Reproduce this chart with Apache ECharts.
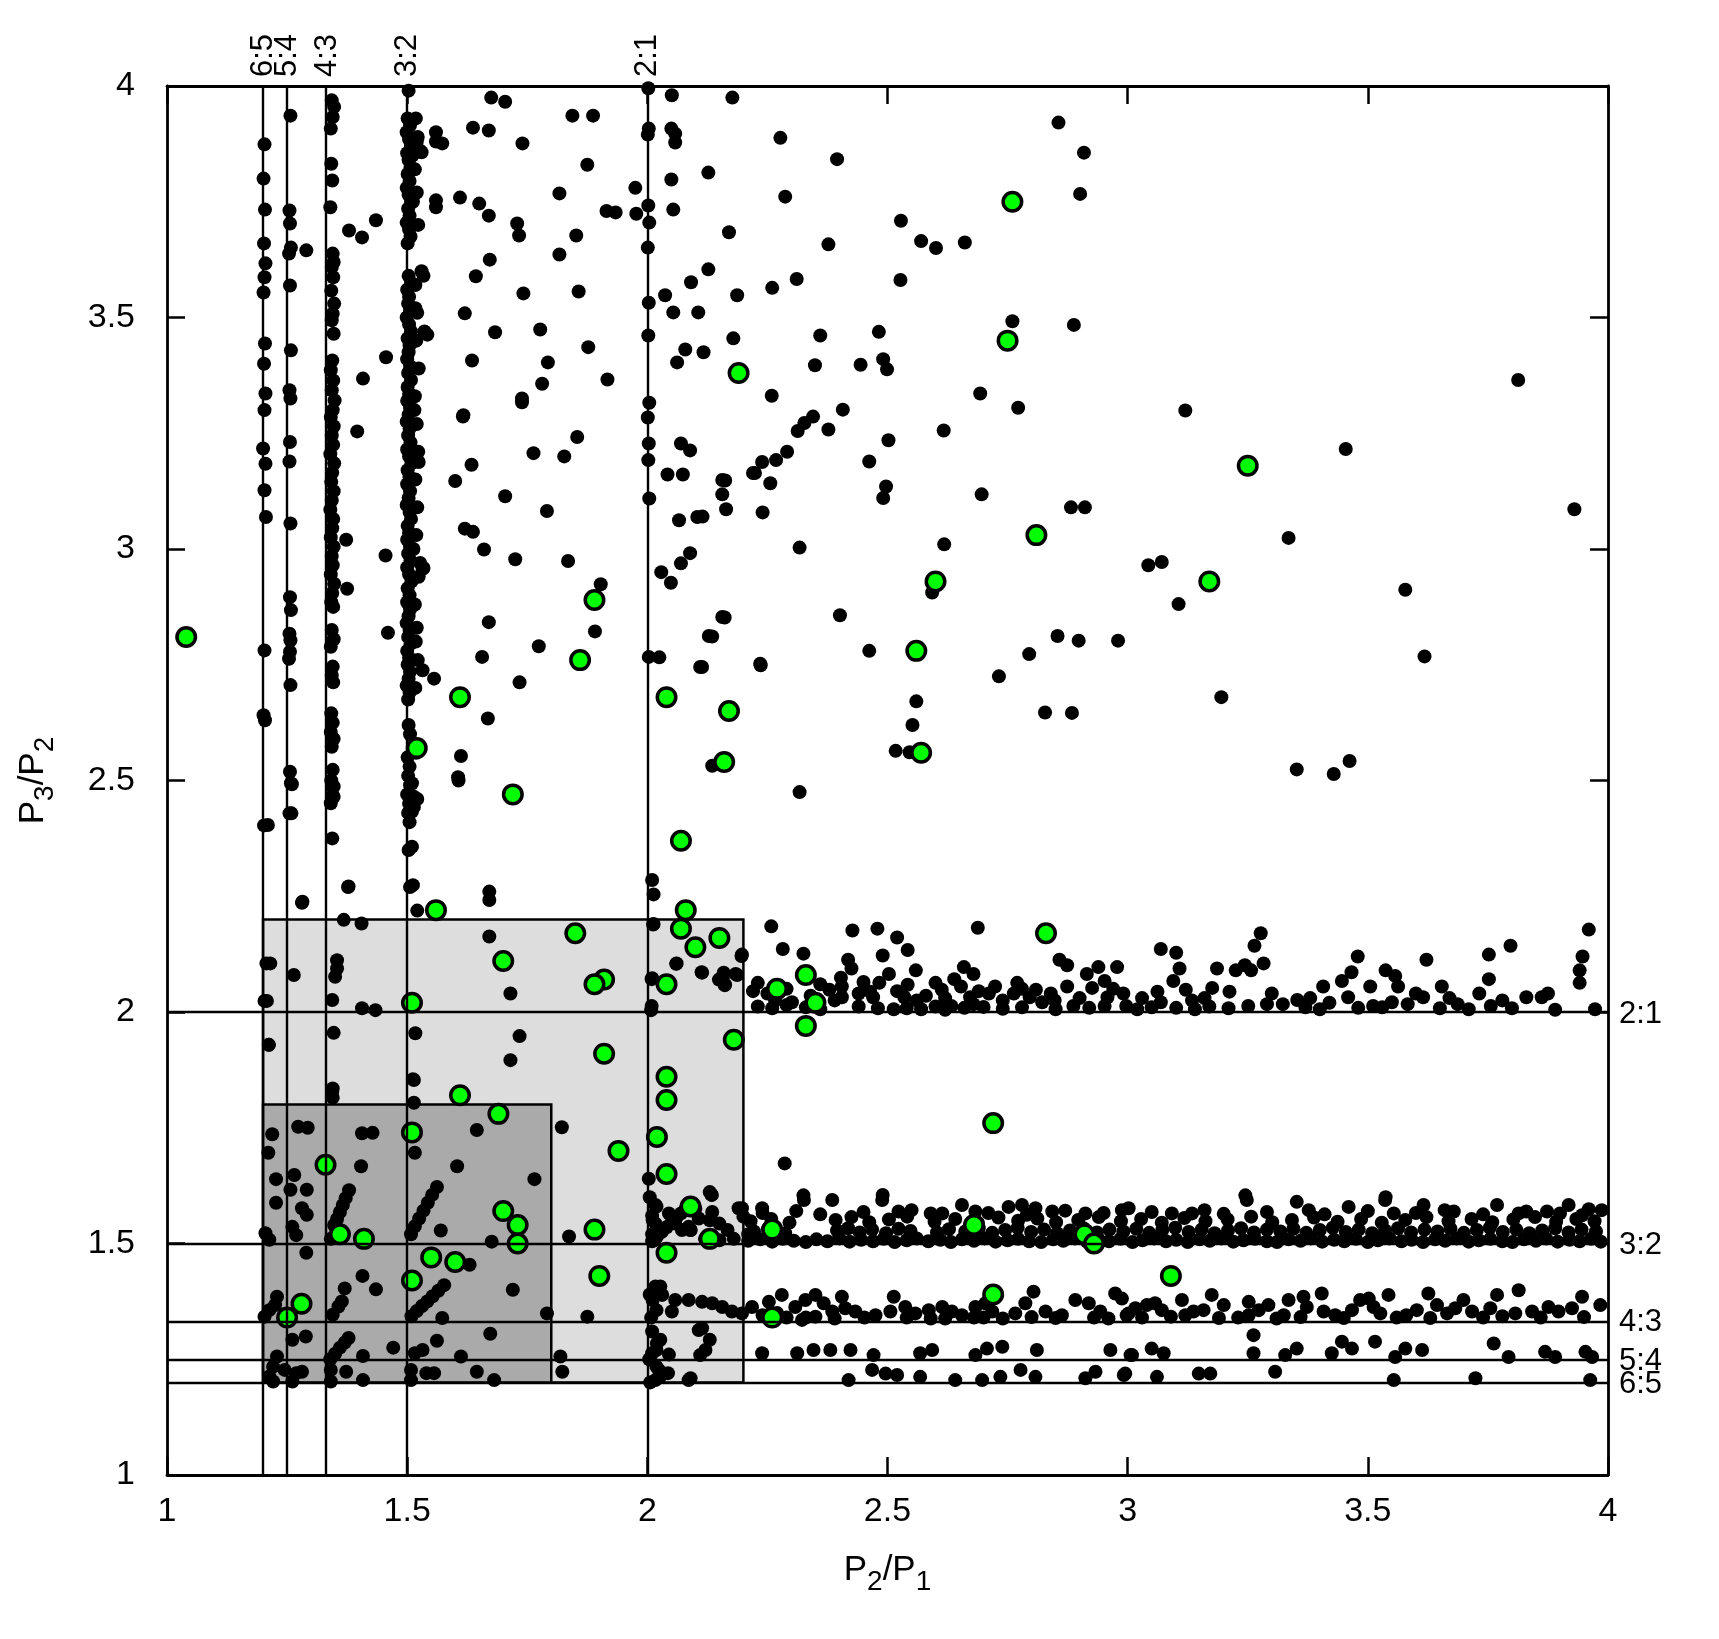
<!DOCTYPE html>
<html>
<head>
<meta charset="utf-8">
<title>P3/P2 against P2/P1</title>
<script src="https://cdn.jsdelivr.net/npm/echarts@6/dist/echarts.min.js"></script>
<style>
  html, body { margin: 0; padding: 0; background: #fff; }
  #chart { width: 1719px; height: 1639px; }
</style>
</head>
<body>
<div id="chart"></div>
<script>
// resonance ratios, drawn as lines and labelled on top / right
var resonanceValues = [6 / 5, 5 / 4, 4 / 3, 3 / 2, 2];
var resonanceLabels = ['6:5', '5:4', '4:3', '3:2', '2:1'];

// shaded boxes [x0, y0, x1, y1]
var boxLight = [1.2, 1.2, 2.2, 2.2];
var boxDark = [1.2, 1.2, 1.8, 1.8];

// points piled up on the vertical resonance lines
var col65 = [[1.203,3.874],[1.201,3.800],[1.204,3.733],[1.202,3.66],[1.205,3.617],[1.203,3.587],[1.201,3.554],[1.204,3.444],[1.202,3.400],[1.205,3.336],[1.203,3.300],[1.200,3.217],[1.205,3.184],[1.203,3.127],[1.206,3.069],[1.203,2.781],[1.201,2.641],[1.204,2.630],[1.202,2.403],[1.207,2.105],[1.203,2.024],[1.212,1.929]];

var col54 = [[1.257,3.936],[1.255,3.731],[1.256,3.703],[1.258,3.651],[1.254,3.638],[1.256,3.569],[1.258,3.429],[1.255,3.343],[1.257,3.325],[1.256,3.231],[1.255,3.189],[1.257,3.055],[1.256,2.896],[1.258,2.868],[1.255,2.817],[1.257,2.803],[1.256,2.778],[1.254,2.763],[1.257,2.706],[1.256,2.519],[1.258,2.494],[1.255,2.429],[1.264,2.080],[1.290,3.645]];

var col43 = [[1.343,3.969],[1.348,3.955],[1.345,3.933],[1.341,3.908],[1.342,3.832],[1.344,3.796],[1.340,3.738],[1.345,3.638],[1.347,3.620],[1.343,3.609],[1.346,3.587],[1.342,3.558],[1.348,3.530],[1.345,3.508],[1.343,3.494],[1.347,3.465],[1.344,3.407],[1.341,3.386],[1.346,3.364],[1.343,3.343],[1.349,3.321],[1.345,3.300],[1.341,3.285],[1.347,3.265],[1.343,3.245],[1.346,3.225],[1.340,3.205],[1.348,3.185],[1.344,3.165],[1.342,3.145],[1.347,3.125],[1.343,3.105],[1.340,3.085],[1.346,3.065],[1.344,3.045],[1.341,3.025],[1.347,3.005],[1.343,2.985],[1.345,2.965],[1.341,2.945],[1.348,2.925],[1.344,2.905],[1.342,2.885],[1.346,2.875],[1.343,2.825],[1.347,2.805],[1.341,2.789],[1.345,2.746],[1.343,2.727],[1.346,2.712],[1.342,2.645],[1.345,2.625],[1.341,2.605],[1.347,2.590],[1.343,2.573],[1.345,2.523],[1.342,2.500],[1.347,2.487],[1.344,2.465],[1.341,2.451],[1.344,2.375],[1.354,2.112],[1.354,2.094],[1.350,2.076],[1.344,2.026],[1.347,1.955],[1.344,1.828],[1.345,1.835],[1.345,1.815]];

var col32 = [[1.503,3.990],[1.501,3.930],[1.506,3.915],[1.499,3.900],[1.504,3.885],[1.508,3.870],[1.500,3.855],[1.503,3.840],[1.507,3.825],[1.501,3.810],[1.505,3.795],[1.499,3.780],[1.503,3.765],[1.508,3.750],[1.502,3.735],[1.505,3.720],[1.499,3.705],[1.504,3.690],[1.507,3.675],[1.501,3.660],[1.503,3.590],[1.508,3.575],[1.500,3.560],[1.504,3.545],[1.502,3.530],[1.506,3.515],[1.499,3.500],[1.504,3.485],[1.508,3.470],[1.501,3.455],[1.505,3.440],[1.503,3.425],[1.500,3.410],[1.506,3.395],[1.502,3.380],[1.508,3.365],[1.501,3.350],[1.504,3.335],[1.500,3.320],[1.506,3.305],[1.503,3.290],[1.499,3.275],[1.505,3.260],[1.502,3.245],[1.507,3.230],[1.500,3.215],[1.504,3.200],[1.509,3.185],[1.501,3.170],[1.505,3.155],[1.500,3.140],[1.506,3.125],[1.503,3.110],[1.499,3.095],[1.505,3.080],[1.508,3.065],[1.501,3.050],[1.504,3.035],[1.500,3.020],[1.506,3.005],[1.502,2.990],[1.507,2.975],[1.500,2.960],[1.504,2.945],[1.509,2.930],[1.501,2.915],[1.505,2.900],[1.500,2.885],[1.506,2.870],[1.503,2.855],[1.499,2.840],[1.505,2.825],[1.502,2.810],[1.507,2.795],[1.500,2.780],[1.504,2.765],[1.501,2.750],[1.506,2.735],[1.503,2.720],[1.499,2.705],[1.505,2.690],[1.502,2.675],[1.503,2.620],[1.506,2.600],[1.501,2.550],[1.505,2.530],[1.502,2.510],[1.506,2.490],[1.500,2.470],[1.504,2.450],[1.502,2.430],[1.505,2.410],[1.503,2.350],[1.506,2.270],[1.510,2.494],[1.514,2.465],[1.514,2.443],[1.510,2.433],[1.510,2.357],[1.512,2.274],[1.521,2.219],[1.514,1.853],[1.514,1.804],[1.517,1.954],[1.512,1.855],[1.516,1.696],[1.527,3.860],[1.520,3.880],[1.560,3.880],[1.530,3.600],[1.534,3.590],[1.536,3.470],[1.527,2.970],[1.524,3.188],[1.532,2.957],[1.532,2.738],[1.517,3.520],[1.515,3.300],[1.513,3.000],[1.518,2.800],[1.512,3.750],[1.511,3.850],
  [1.518,3.930],[1.522,3.890],[1.516,3.820],[1.520,3.770],[1.523,3.700],[1.517,3.570],[1.521,3.510],[1.519,3.450],[1.524,3.390],[1.516,3.330],[1.520,3.270],[1.523,3.210],[1.517,3.150],[1.521,3.090],[1.519,3.030],[1.524,2.940],[1.516,2.880],[1.520,2.830],[1.522,2.760],[1.517,2.700],[1.519,2.560],[1.521,2.460]];

var col21 = [[2.002,3.995],[2.003,3.908],[2.001,3.895],[2.002,3.742],[2.004,3.705],[2.001,3.651],[2.003,3.532],[2.002,3.461],[2.004,3.316],[2.001,3.284],[2.003,3.228],[2.002,3.192],[2.004,3.109],[2.003,2.767],[2.010,2.285],[2.013,2.254],[2.013,2.190],[2.010,2.073],[2.008,2.004],[2.012,2.189],[2.009,2.013],[2.019,1.580],[2.011,1.551],[2.019,1.529],[2.015,1.508],[2.027,1.407],[2.011,1.378],[2.019,1.356],[2.051,1.353],[2.027,1.292],[2.019,1.270],[2.019,1.234],[2.027,1.213],[2.043,1.220],[2.005,1.600],[2.003,1.640],[2.005,1.390],[2.008,1.340],[2.004,1.250],[2.006,1.200],[2.010,1.310]];

// scattered points above y = 2.2
var scatterUpper = [[1.675,3.975],[1.704,3.966],[1.637,3.910],[1.670,3.904],[1.740,3.876],[1.844,3.936],[1.887,3.936],[1.875,3.830],[1.817,3.768],[1.975,3.780],[1.915,3.730],[1.934,3.727],[1.977,3.724],[1.560,3.900],[1.573,3.876],[1.530,3.857],[1.560,3.753],[1.560,3.738],[1.610,3.759],[1.650,3.746],[1.670,3.720],[1.729,3.703],[1.733,3.677],[1.852,3.677],[1.817,3.636],[1.672,3.625],[1.643,3.589],[1.742,3.552],[1.857,3.556],[1.620,3.509],[1.683,3.468],[1.777,3.474],[1.542,3.463],[1.877,3.436],[1.635,3.407],[1.793,3.403],[1.917,3.366],[1.781,3.357],[1.739,3.325],[1.617,3.289],[1.456,3.414],[1.408,3.368],[1.379,3.688],[1.406,3.673],[1.435,3.710],
  [2.051,3.980],[2.050,3.908],[2.058,3.897],[2.058,3.878],[2.050,3.798],[2.054,3.733],[2.127,3.813],[2.177,3.975],[2.170,3.684],[2.127,3.604],[2.091,3.576],[2.037,3.548],[2.054,3.511],[2.106,3.511],[2.187,3.548],[2.179,3.455],[2.079,3.431],[2.117,3.425],[2.062,3.403],
  [1.396,3.254],[1.616,3.286],[1.739,3.317],[1.854,3.242],[1.763,3.207],[1.827,3.200],[1.634,3.182],[1.600,3.147],[1.704,3.114],[1.791,3.082],[1.620,3.044],[1.637,3.037],[1.660,2.999],[1.725,2.978],[1.835,2.974],[1.455,2.986],[1.373,3.020],[1.375,2.914],[1.534,2.959],[1.903,2.924],[1.891,2.822],[1.774,2.790],[1.670,2.842],[1.656,2.767],[1.460,2.819],[1.556,2.720],[1.734,2.712],[1.668,2.634],[1.612,2.553],[1.606,2.507],[1.377,2.270],[1.282,2.238],[1.671,2.260],[1.671,2.242],
  [2.070,3.228],[2.089,3.213],[2.042,3.161],[2.074,3.161],[2.162,3.148],[2.164,3.086],[2.224,3.164],[2.066,3.062],[2.104,3.069],[2.089,2.991],[2.070,2.969],[2.029,2.950],[2.049,2.927],[2.161,2.852],[2.135,2.811],[2.025,2.766],[2.114,2.745],[2.236,2.749],[2.135,2.532],
  [1.260,2.492],[1.344,2.487],[1.347,2.465],[1.607,2.500],[1.259,2.429],[1.210,2.404],[1.378,2.271],[1.281,2.236],[1.671,2.163],[1.368,2.199],[1.405,2.191],[2.060,2.104],[2.114,2.085],[2.159,2.085],[2.149,2.070],[2.161,2.058],[2.187,2.080],[2.196,2.121],[1.215,2.105],[1.715,2.040],[1.208,2.024],[1.406,2.008],[1.434,2.004],[1.734,1.948],[1.715,1.896],[1.212,1.929],
  [2.277,3.888],[2.395,3.842],[2.287,3.761],[2.377,3.658],[2.528,3.709],[2.570,3.665],[2.601,3.650],[2.661,3.662],[2.856,3.921],[2.909,3.856],[2.901,3.767],[2.260,3.564],[2.311,3.583],[2.527,3.581],[2.360,3.461],[2.482,3.469],[2.349,3.397],[2.444,3.398],[2.491,3.410],[2.499,3.388],[2.760,3.492],[2.888,3.484],[2.259,3.331],[2.693,3.336],[2.772,3.305],[3.813,3.365],[3.120,3.299],[2.345,3.286],[2.327,3.272],[2.313,3.255],[2.407,3.301],[2.377,3.258],[2.291,3.210],[2.268,3.192],[2.239,3.188],[2.220,3.164],[2.156,3.149],[2.156,3.118],[2.256,3.142],[2.240,3.079],[2.115,3.070],[2.462,3.189],[2.502,3.235],[2.617,3.256],[2.497,3.135],[2.491,3.110],[2.696,3.118],[3.454,3.216],[2.882,3.090],[2.911,3.090],[3.930,3.086],[3.335,3.024],[2.317,3.003],[2.618,3.010],[2.593,2.906],[3.043,2.965],[3.071,2.972],[3.106,2.881],[3.578,2.912],[2.156,2.853],[2.128,2.812],[2.401,2.857],[2.110,2.745],[2.235,2.752],[2.462,2.780],[2.854,2.812],[2.898,2.802],[2.980,2.802],[2.795,2.773],[3.618,2.768],[2.732,2.725],[3.195,2.680],[2.560,2.671],[2.552,2.620],[2.828,2.647],[2.884,2.646],[2.517,2.564],[2.546,2.561],[3.352,2.524],[3.429,2.514],[3.462,2.542],[2.317,2.475]];

// points piled up along the horizontal resonance lines
var band21 = [[2.258,2.185],[2.282,2.136],[2.325,2.126],[2.230,2.063],[2.266,2.025],[2.301,2.021],[2.197,2.124],[2.184,2.082],[2.158,2.078],[2.162,2.059],[2.113,2.086],[2.061,2.105],[2.009,2.071],
  [2.427,2.176],[2.479,2.180],[2.520,2.161],[2.542,2.134],[2.418,2.113],[2.425,2.094],[2.403,2.074],[2.405,2.055],[2.379,2.048],[2.405,2.032],[2.490,2.122],[2.503,2.082],[2.483,2.063],[2.464,2.044],[2.470,2.032],[2.559,2.090],[2.542,2.059],[2.535,2.032],[2.513,2.006],[2.561,2.025],[2.600,2.063],[2.613,2.048],[2.639,2.071],[2.659,2.097],[2.679,2.082],[2.653,2.055],[2.672,2.032],[2.633,2.013],[2.679,2.017],[2.688,2.182],[2.724,2.055],[2.711,2.040],[2.770,2.063],[2.763,2.040],[2.796,2.032],[2.809,2.048],[2.822,2.021],[2.858,2.113],[2.874,2.101],[2.874,2.055],[2.887,2.013],[2.848,2.025],[2.915,2.082],[2.939,2.097],[2.952,2.067],[2.926,2.052],[2.978,2.097],[2.958,2.032],[2.952,2.013],[2.991,2.040],[2.997,2.013],[3.069,2.136],[3.101,2.128],[3.108,2.094],[3.095,2.067],[3.062,2.044],[3.069,2.021],[3.101,2.009],[3.134,2.025],[3.121,2.048],[3.186,2.094],[3.176,2.052],[3.212,2.044],[3.225,2.090],[3.244,2.101],[3.257,2.090],[3.264,2.143],[3.277,2.170],[3.283,2.105],[3.251,2.013],[3.290,2.017],[3.323,2.017],[3.353,2.026],[3.407,2.055],[3.446,2.067],[3.466,2.086],[3.479,2.120],[3.459,2.032],[3.505,2.055],[3.511,2.013],[3.537,2.090],[3.557,2.078],[3.563,2.055],[3.550,2.021],[3.583,2.017],[3.622,2.113],[3.615,2.032],[3.654,2.055],[3.687,2.017],[3.732,2.040],[3.752,2.071],[3.756,2.013],[3.752,2.124],[3.797,2.143],[3.830,2.032],[3.862,2.032],[3.875,2.040],[3.941,2.090],[3.941,2.063],[3.947,2.120],[3.960,2.178],[3.973,2.006],
  [2.230,2.012],[2.260,2.008],[2.290,2.015],[2.330,2.010],[2.360,2.006],[2.440,2.012],[2.480,2.008],[2.540,2.008],[2.570,2.006],[2.600,2.012],[2.620,2.005],[2.660,2.009],[2.700,2.011],[2.740,2.007],[2.780,2.010],[2.850,2.006],[2.920,2.009],[3.020,2.006],[3.050,2.010],[3.140,2.006],[3.170,2.012],[3.210,2.008],[3.370,2.010],[3.400,2.006],[3.480,2.009],[3.530,2.010],[3.650,2.008],[3.710,2.006],[3.800,2.008],[3.890,2.005],
  [2.220,2.045],[2.250,2.040],[2.290,2.050],[2.340,2.035],[2.360,2.060],[2.390,2.025],[2.440,2.040],[2.450,2.065],[2.520,2.045],[2.580,2.035],[2.620,2.030],[2.690,2.045],[2.740,2.025],[2.780,2.050],[2.840,2.040],[2.900,2.030],[2.970,2.050],[3.030,2.030],[3.160,2.030],[3.300,2.040],[3.380,2.030],[3.420,2.020],[3.600,2.040],[3.670,2.030],[3.780,2.025],[2.286,1.673]];

var band32 = [[2.010,1.505],[2.020,1.515],[2.030,1.525],[2.040,1.535],[2.050,1.545],[2.060,1.555],[2.070,1.565],[2.080,1.575],[2.017,1.583],[2.010,1.560],[2.017,1.543],[2.010,1.520],[2.045,1.565],[2.058,1.543],[2.072,1.529],[2.086,1.536],[2.107,1.554],[2.134,1.605],[2.135,1.568],[2.150,1.543],[2.167,1.529],[2.190,1.576],[2.200,1.558],[2.210,1.520],[2.090,1.529],[2.120,1.510],[2.150,1.507],[2.180,1.510],[2.100,1.575],[2.130,1.550],
  [2.210,1.506],[2.235,1.509],[2.260,1.504],[2.282,1.510],[2.305,1.506],[2.330,1.503],[2.352,1.509],[2.375,1.505],[2.400,1.511],[2.421,1.504],[2.445,1.508],[2.470,1.505],[2.492,1.510],[2.515,1.503],[2.540,1.507],[2.561,1.511],[2.585,1.505],[2.610,1.508],[2.632,1.503],[2.655,1.509],[2.680,1.506],[2.702,1.511],[2.725,1.504],[2.750,1.507],[2.772,1.510],[2.795,1.505],[2.820,1.503],[2.845,1.509],[2.866,1.506],[2.890,1.511],[2.915,1.504],[2.940,1.508],[2.961,1.505],[2.985,1.510],[3.010,1.503],[3.031,1.507],[3.055,1.511],[3.080,1.505],[3.101,1.508],[3.125,1.503],[3.150,1.509],[3.171,1.506],[3.195,1.511],[3.220,1.504],[3.241,1.507],[3.265,1.510],[3.290,1.505],[3.311,1.503],[3.335,1.509],[3.360,1.506],[3.381,1.511],[3.405,1.504],[3.430,1.508],[3.451,1.505],[3.475,1.510],[3.500,1.503],[3.521,1.507],[3.545,1.511],[3.570,1.505],[3.591,1.508],[3.615,1.503],[3.640,1.509],[3.661,1.506],[3.685,1.511],[3.710,1.504],[3.731,1.507],[3.755,1.510],[3.780,1.505],[3.801,1.503],[3.825,1.509],[3.850,1.506],[3.871,1.511],[3.895,1.504],[3.920,1.508],[3.941,1.505],[3.965,1.510],[3.985,1.504],
  [2.222,1.526],[2.251,1.531],[2.287,1.522],[2.395,1.528],[2.418,1.533],[2.442,1.524],[2.468,1.530],[2.497,1.522],[2.523,1.532],[2.548,1.527],[2.603,1.524],[2.628,1.531],[2.662,1.526],[2.690,1.533],[2.718,1.523],[2.745,1.529],[2.771,1.534],[2.799,1.525],[2.826,1.530],[2.853,1.522],[2.880,1.528],[2.908,1.533],[2.936,1.524],[2.962,1.530],[2.991,1.526],[3.018,1.532],[3.045,1.523],[3.072,1.529],[3.099,1.534],[3.127,1.525],[3.154,1.530],[3.181,1.522],[3.209,1.528],[3.236,1.533],[3.263,1.524],[3.290,1.530],[3.318,1.526],[3.345,1.532],[3.372,1.523],[3.400,1.529],[3.427,1.534],[3.454,1.525],[3.481,1.530],[3.509,1.522],[3.536,1.528],[3.563,1.533],[3.590,1.524],[3.618,1.530],[3.645,1.526],[3.672,1.532],[3.700,1.523],[3.727,1.529],[3.754,1.534],[3.781,1.525],[3.809,1.530],[3.836,1.522],[3.863,1.528],[3.890,1.533],[3.918,1.524],[3.945,1.530],[3.975,1.526],
  [2.215,1.548],[2.258,1.553],[2.296,1.545],[2.392,1.551],[2.425,1.557],[2.462,1.546],[2.503,1.552],[2.541,1.558],[2.598,1.547],[2.641,1.553],[2.688,1.545],[2.731,1.556],[2.772,1.549],[2.812,1.554],[2.851,1.546],[2.897,1.551],[2.940,1.557],[2.986,1.548],[3.028,1.553],[3.071,1.545],[3.118,1.555],[3.162,1.548],[3.208,1.552],[3.257,1.558],[3.301,1.546],[3.342,1.551],[3.388,1.556],[3.437,1.547],[3.486,1.553],[3.529,1.545],[3.578,1.551],[3.622,1.557],[3.668,1.548],[3.716,1.553],[3.759,1.546],[3.803,1.552],[3.848,1.557],[3.892,1.547],[3.934,1.553],[3.972,1.548],
  [2.240,1.566],[2.310,1.570],[2.360,1.563],[2.450,1.568],[2.550,1.572],[2.590,1.565],[2.710,1.566],[2.790,1.562],[2.870,1.571],[2.950,1.566],[3.050,1.568],[3.160,1.572],[3.200,1.564],[3.290,1.568],[3.410,1.563],[3.500,1.570],[3.600,1.566],[3.660,1.572],[3.740,1.563],[3.830,1.569],[3.900,1.565],[3.960,1.574],
  [2.197,1.576],[2.239,1.576],[2.326,1.594],[2.385,1.594],[2.489,1.594],[2.523,1.569],[2.614,1.565],[2.655,1.583],[2.683,1.569],[2.752,1.579],[2.780,1.583],[2.808,1.576],[2.843,1.569],[2.912,1.565],[2.988,1.572],[3.002,1.576],[3.092,1.565],[3.134,1.565],[3.248,1.594],[3.352,1.590],[3.377,1.572],[3.460,1.579],[3.536,1.594],[3.554,1.565],[3.616,1.583],[3.679,1.569],[3.769,1.583],[3.814,1.565],[3.873,1.569],[3.918,1.583],[3.946,1.561],[3.987,1.572],[2.130,1.611],[2.325,1.604],[2.490,1.605],[3.245,1.604],[3.537,1.600]];

var band43 = [[2.017,1.407],[2.031,1.389],[2.058,1.378],[2.086,1.378],[2.114,1.374],[2.135,1.371],[2.156,1.363],[2.176,1.353],[2.197,1.349],[2.218,1.363],[2.253,1.374],[2.280,1.389],[2.240,1.345],[2.270,1.350],[2.290,1.340],
  [2.308,1.363],[2.329,1.378],[2.350,1.389],[2.367,1.371],[2.385,1.353],[2.405,1.385],[2.412,1.360],[2.433,1.353],[2.475,1.345],[2.506,1.353],[2.513,1.385],[2.537,1.363],[2.558,1.349],[2.586,1.356],[2.614,1.363],[2.634,1.353],[2.655,1.345],[2.683,1.363],[2.704,1.371],[2.718,1.353],[2.766,1.349],[2.787,1.371],[2.804,1.396],[2.829,1.353],[2.863,1.345],[2.891,1.378],[2.919,1.371],[2.943,1.353],[2.974,1.392],[3.002,1.349],[2.322,1.335],[2.350,1.342],[2.452,1.340],[2.590,1.338],[2.700,1.340],[2.930,1.340],
  [2.988,1.381],[2.998,1.345],[3.016,1.360],[3.040,1.367],[3.057,1.371],[3.071,1.356],[3.113,1.378],[3.120,1.345],[3.137,1.353],[3.158,1.356],[3.175,1.389],[3.200,1.367],[3.252,1.374],[3.252,1.345],[3.273,1.356],[3.293,1.367],[3.325,1.345],[3.335,1.378],[3.366,1.385],[3.373,1.363],[3.404,1.392],[3.408,1.353],[3.432,1.345],[3.467,1.356],[3.484,1.378],[3.502,1.381],[3.512,1.363],[3.526,1.349],[3.543,1.389],[3.602,1.356],[3.626,1.392],[3.644,1.367],[3.665,1.349],[3.682,1.360],[3.699,1.378],[3.717,1.353],[3.755,1.360],[3.769,1.389],[3.814,1.399],[3.807,1.349],[3.842,1.353],[3.876,1.363],[3.897,1.353],[3.925,1.360],[3.946,1.385],[3.984,1.367],
  [2.330,1.340],[2.390,1.338],[2.540,1.340],[2.620,1.338],[2.680,1.340],[2.740,1.338],[2.800,1.341],[2.850,1.339],[2.960,1.338],[3.030,1.340],[3.090,1.342],[3.190,1.339],[3.230,1.340],[3.310,1.338],[3.360,1.341],[3.450,1.339],[3.560,1.340],[3.580,1.345],[3.630,1.339],[3.740,1.340],[3.780,1.343],[3.860,1.340],[3.950,1.341]];

var band54 = [[2.020,1.284],[2.010,1.263],[2.121,1.270],[2.110,1.259],[2.107,1.313],[2.045,1.260],
  [2.239,1.263],[2.312,1.263],[2.346,1.270],[2.381,1.270],[2.423,1.270],[2.471,1.259],[2.568,1.263],[2.593,1.270],[2.683,1.259],[2.707,1.273],[2.739,1.277],[2.811,1.270],[2.964,1.270],[3.006,1.259],
  [3.009,1.259],[3.050,1.273],[3.075,1.263],[3.262,1.302],[3.262,1.263],[3.328,1.259],[3.352,1.273],[3.425,1.263],[3.446,1.288],[3.467,1.273],[3.515,1.288],[3.557,1.255],[3.578,1.273],[3.613,1.270],[3.762,1.284],[3.793,1.255],[3.869,1.266],[3.890,1.255],[3.953,1.266],[3.967,1.255]];

var band65 = [[2.024,1.227],[2.017,1.205],[2.086,1.205],
  [2.468,1.227],[2.496,1.219],[2.520,1.216],[2.419,1.205],[2.568,1.212],[2.641,1.205],[2.697,1.205],[2.735,1.212],[2.777,1.227],[2.808,1.212],[2.912,1.209],[2.933,1.223],[2.992,1.216],
  [2.995,1.219],[3.061,1.212],[3.148,1.219],[3.172,1.219],[3.307,1.223],[3.554,1.205],[3.724,1.209],[3.963,1.205]];

// points inside the shaded boxes
var boxPoints = [[1.219,1.736],[1.211,1.696],[1.273,1.752],[1.293,1.750],[1.406,1.738],[1.428,1.739],[1.645,1.745],[1.822,1.751],[1.404,1.667],[1.604,1.667],[1.765,1.639],[1.227,1.639],[1.227,1.588],[1.265,1.648],[1.257,1.616],[1.291,1.616],[1.281,1.576],[1.291,1.562],
  [1.379,1.615],[1.372,1.598],[1.366,1.583],[1.360,1.568],[1.354,1.553],[1.348,1.540],[1.341,1.510],
  [1.562,1.622],[1.552,1.605],[1.543,1.588],[1.534,1.571],[1.525,1.554],[1.516,1.537],[1.508,1.520],
  [1.570,1.528],[1.676,1.504],[1.205,1.522],[1.213,1.508],[1.261,1.536],[1.269,1.518],[1.290,1.480],[1.407,1.430],[1.370,1.403],[1.435,1.401],[1.630,1.454],[1.720,1.400],
  [1.577,1.410],[1.565,1.398],[1.553,1.386],[1.542,1.375],[1.531,1.365],[1.520,1.354],[1.509,1.343],
  [1.573,1.339],[1.791,1.349],[1.875,1.342],[1.837,1.515],[1.203,1.342],[1.213,1.356],[1.229,1.385],[1.225,1.367],[1.345,1.346],[1.357,1.364],[1.364,1.375],[1.289,1.299],[1.261,1.292],
  [1.340,1.250],[1.350,1.262],[1.360,1.275],[1.370,1.286],[1.378,1.296],
  [1.408,1.257],[1.471,1.275],[1.562,1.290],[1.673,1.305],[1.516,1.263],[1.532,1.270],[1.612,1.256],[1.229,1.256],[1.221,1.234],[1.245,1.227],[1.269,1.220],[1.281,1.223],[1.213,1.213],[1.221,1.202],[1.261,1.202],[1.341,1.227],[1.373,1.223],[1.341,1.202],[1.408,1.205],[1.508,1.227],[1.508,1.205],[1.540,1.220],[1.556,1.220],[1.645,1.223],[1.681,1.205],[1.819,1.256],[1.823,1.223],
  [2.134,1.605],[2.090,1.529],[2.114,1.317],[2.130,1.292],[2.090,1.209]];

// highlighted (green) systems
var greenPoints = [[1.04,2.81],[2.76,3.75],[2.75,3.45],[2.19,3.38],[3.25,3.18],[2.81,3.03],[3.17,2.93],[2.60,2.93],[1.89,2.89],[2.56,2.78],[1.86,2.76],[1.61,2.68],[2.04,2.68],[2.17,2.65],[1.52,2.57],[2.57,2.56],[2.16,2.54],[1.72,2.47],[2.07,2.37],[1.56,2.22],[2.08,2.22],[2.07,2.18],[2.15,2.16],[2.10,2.14],[1.85,2.17],[2.83,2.17],[1.70,2.11],[2.33,2.08],[2.27,2.05],[2.04,2.06],[1.91,2.07],[1.89,2.06],[1.51,2.02],[2.35,2.02],[2.33,1.97],[2.18,1.94],[1.91,1.91],[2.04,1.86],[2.04,1.81],[1.61,1.82],[1.69,1.78],[2.72,1.76],[1.51,1.74],[2.02,1.73],[1.94,1.70],[1.33,1.67],[2.04,1.65],[2.09,1.58],[1.70,1.57],[1.73,1.54],[1.73,1.50],[1.89,1.53],[1.36,1.52],[1.41,1.51],[2.13,1.51],[2.26,1.53],[2.68,1.54],[2.91,1.52],[2.93,1.50],[2.04,1.48],[1.55,1.47],[1.60,1.46],[1.51,1.42],[1.90,1.43],[3.09,1.43],[2.72,1.39],[1.28,1.37],[1.25,1.34],[2.26,1.34]];

var blackPoints = [].concat(col65, col54, col43, col32, col21, scatterUpper, band21, band32, band43, band54, band65, boxPoints);

var font = '"Liberation Sans", Arial, Helvetica, sans-serif';

// P and a lowered subscript: both tokens centred, padding pushes the subscript down
var nameRich = {
    a: { fontSize: 35, fontFamily: font, color: '#000', lineHeight: 36, verticalAlign: 'middle', padding: [0, 0, 12, 0] },
    s: { fontSize: 28, fontFamily: font, color: '#000', lineHeight: 28, verticalAlign: 'middle', padding: [12, 0, 0, 0] }
};

var axisLineStyle = { color: '#000', width: 2.8 };
var tickStyle = { show: true, inside: true, length: 18, lineStyle: { color: '#000', width: 2.5 } };

var resonanceLines = [];
for (var i = 0; i < resonanceValues.length; i++) {
    resonanceLines.push({ xAxis: resonanceValues[i] });
    resonanceLines.push({ yAxis: resonanceValues[i] });
}

var chart = echarts.init(document.getElementById('chart'));

var option = {
    animation: false,
    backgroundColor: '#fff',
    grid: { left: 167, right: 111, top: 86, bottom: 164 },
    xAxis: [{
        type: 'value', min: 1, max: 4, interval: 0.5, position: 'bottom',
        axisLine: { show: true, onZero: false, lineStyle: axisLineStyle },
        axisTick: tickStyle,
        axisLabel: { color: '#000', fontSize: 34, fontFamily: font, margin: 20 },
        splitLine: { show: false },
        name: '{a|P}{s|2}{a|/P}{s|1}', nameLocation: 'middle', nameGap: 83,
        nameTextStyle: { rich: nameRich }
    }, {
        type: 'value', min: 1, max: 4, interval: 0.5, position: 'top',
        axisLine: { show: true, onZero: false, lineStyle: axisLineStyle },
        axisTick: tickStyle,
        axisLabel: { show: false },
        splitLine: { show: false }
    }],
    yAxis: [{
        type: 'value', min: 1, max: 4, interval: 0.5, position: 'left',
        axisLine: { show: true, onZero: false, lineStyle: axisLineStyle },
        axisTick: tickStyle,
        axisLabel: { color: '#000', fontSize: 34, fontFamily: font, margin: 32 },
        splitLine: { show: false },
        name: '{a|P}{s|3}{a|/P}{s|2}', nameLocation: 'middle', nameGap: 110, nameRotate: 90,
        nameTextStyle: { rich: nameRich }
    }, {
        type: 'value', min: 1, max: 4, interval: 0.5, position: 'right',
        axisLine: { show: true, onZero: false, lineStyle: axisLineStyle },
        axisTick: tickStyle,
        axisLabel: { show: false },
        splitLine: { show: false }
    }],
    series: [{
        name: 'boxes', type: 'scatter', data: [], z: 1, silent: true,
        markArea: {
            silent: true,
            data: [
                [{ coord: [boxLight[0], boxLight[1]], itemStyle: { color: '#dddddd', borderColor: '#000', borderWidth: 2.5 } },
                 { coord: [boxLight[2], boxLight[3]] }],
                [{ coord: [boxDark[0], boxDark[1]], itemStyle: { color: '#aaaaaa', borderColor: '#000', borderWidth: 2.5 } },
                 { coord: [boxDark[2], boxDark[3]] }]
            ]
        }
    }, {
        name: 'resonances', type: 'scatter', data: [], z: 2, silent: true,
        markLine: {
            silent: true, symbol: ['none', 'none'], label: { show: false },
            lineStyle: { color: '#000', width: 2.4, type: 'solid' },
            data: resonanceLines
        }
    }, {
        name: 'systems', type: 'scatter', z: 3, silent: true,
        symbolSize: 14, itemStyle: { color: '#000', opacity: 1 },
        data: blackPoints
    }, {
        name: 'highlighted', type: 'scatter', z: 4, silent: true,
        symbolSize: 18.5, itemStyle: { color: '#00ff00', borderColor: '#000', borderWidth: 3.5, opacity: 1 },
        data: greenPoints
    }]
};

chart.setOption(option);

// resonance labels: rotated above the top border, plain beside the right border
var labelFont = '31px "Liberation Sans", Arial, sans-serif';
var graphics = [];
for (var k = 0; k < resonanceValues.length; k++) {
    var topPt = chart.convertToPixel({ xAxisIndex: 0, yAxisIndex: 0 }, [resonanceValues[k], 4]);
    var rightPt = chart.convertToPixel({ xAxisIndex: 0, yAxisIndex: 0 }, [4, resonanceValues[k]]);
    graphics.push({
        type: 'text', x: topPt[0], y: topPt[1] - 9, rotation: Math.PI / 2, silent: true,
        style: { text: resonanceLabels[k], fill: '#000', font: labelFont, align: 'left', verticalAlign: 'middle' }
    });
    graphics.push({
        type: 'text', x: rightPt[0] + 11, y: rightPt[1] + 2, silent: true,
        style: { text: resonanceLabels[k], fill: '#000', font: labelFont, align: 'left', verticalAlign: 'middle' }
    });
}
chart.setOption({ graphic: graphics });
</script>
</body>
</html>
